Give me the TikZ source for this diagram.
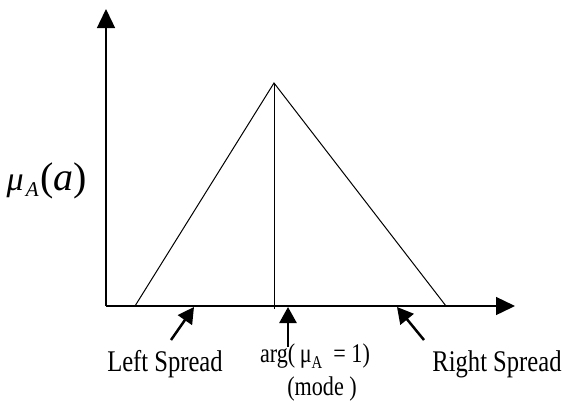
\documentclass[tikz,border=0pt]{standalone}
\usepackage{fontspec}
\setmainfont{Liberation Serif}[FakeStretch=0.82]
\newfontfamily\mathlike{Liberation Serif}
\usetikzlibrary{arrows.meta}
\begin{document}
\begin{tikzpicture}[x=1pt,y=-1pt,
  axis/.style={line width=1.4pt, -{Triangle[length=19pt,width=18pt]}},
  curve/.style={line width=1pt},
  pointer/.style={line width=2.5pt, -{Triangle[length=16pt,width=17pt]}},
  lbl/.style={font=\fontsize{30}{34}\selectfont, anchor=base, inner sep=0pt},
  sublbl/.style={font=\fontsize{27}{30}\selectfont, anchor=base, inner sep=0pt}]
\useasboundingbox (0,0) rectangle (563,400);
% axes
\coordinate (O) at (106,306);
\coordinate (ytip) at (106,9);
\coordinate (xtip) at (515,306);
\draw[axis] (O) -- (ytip);
\draw[axis] (O) -- (xtip);
% triangle
\coordinate (L) at (135,306);
\coordinate (P) at (274,83);
\coordinate (R) at (446,306);
\coordinate (M) at (274,309);
\draw[curve] (L) -- (P) -- (R);
\draw[curve] (P) -- (M);
% pointers
\coordinate (lt) at (171,340);
\coordinate (lh) at (194,307);
\coordinate (mt) at (288,347);
\coordinate (mh) at (288,307);
\coordinate (rt) at (424,340);
\coordinate (rh) at (397,307);
\draw[pointer] (lt) -- (lh);
\draw[pointer] (mt) -- (mh);
\draw[pointer] (rt) -- (rh);
% labels
\node[lbl, font=\mathlike\fontsize{34}{36}\selectfont] (mu) at (47,190) {\textit{μ}\kern2pt\raisebox{-0.2em}{\fontsize{21}{21}\selectfont\textit{A}}\kern2pt{\fontsize{40}{40}\selectfont(\textit{a})}};
\node[lbl] (left) at (165,371) {Left Spread};
\node[lbl] (right) at (497,371) {Right Spread};
\node[sublbl] (arg) at (315,362) {arg(\,μ\raisebox{-0.25em}{\fontsize{18}{18}\selectfont A}\ \ = 1)};
\node[sublbl] (mode) at (322,395) {(mode )};
\end{tikzpicture}
\end{document}
